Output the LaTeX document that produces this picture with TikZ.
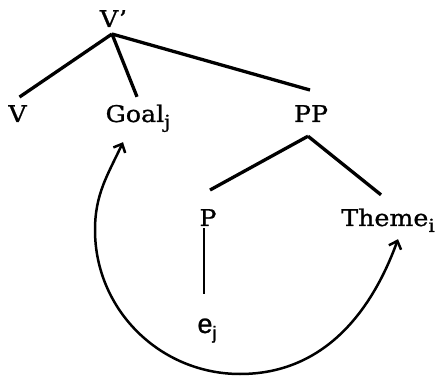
\documentclass[tikz,border=0pt]{standalone}
\usepackage{fontspec}
\setmainfont{DejaVu Serif}[FakeStretch=1.1,FakeBold=1]
\setsansfont{Liberation Sans}[FakeBold=1]
\usetikzlibrary{arrows.meta}
\newcommand\subidx[1]{\raisebox{-6pt}{\fontsize{18}{18}\selectfont #1}}

\begin{document}
\begin{tikzpicture}[x=1pt,y=1pt,font=\fontsize{23}{27}\selectfont,
 cat/.style={inner sep=0pt,anchor=base},
 branch/.style={line width=3.3pt},
 move/.style={{Straight Barb[length=7pt,width=13pt]}-{Straight Barb[length=7pt,width=13pt]},line width=2.5pt}]
\useasboundingbox (0,0) rectangle (435,379);
\node[cat] (vbar) at (113.5,352) {V'};
\node[cat] (v) at (17.5,257) {V};
\node[cat] (goal) at (138,257) {Goal\subidx{j}};
\node[cat] (pp) at (311,257) {PP};
\node[cat] (p) at (208,153) {P};
\node[cat] (theme) at (388,153) {Theme\subidx{i}};
\node[cat,font=\sffamily\fontsize{27}{31}\selectfont] (ej) at (207,46) {e\subidx{j}};
% branches of the tree
\draw[branch] ([xshift=-1.5pt,yshift=-7pt]vbar.base) -- ([xshift=2pt,yshift=8pt]v.north);
\draw[branch] ([xshift=-1.5pt,yshift=-7pt]vbar.base) -- ([xshift=-1pt,yshift=7.5pt]goal.north);
\draw[branch] ([xshift=-1.5pt,yshift=-7pt]vbar.base) -- ([xshift=-1pt,yshift=15pt]pp.north);
\draw[branch] ([xshift=-3pt,yshift=-14pt]pp.south) -- ([xshift=2pt,yshift=19pt]p.north);
\draw[branch] ([xshift=-3pt,yshift=-14pt]pp.south) -- ([xshift=-7pt,yshift=13.5pt]theme.north);
\draw[branch,line width=2.6pt] ([xshift=-4pt,yshift=-2pt]p.south) -- ([xshift=-3pt,yshift=24pt]ej.north);
% movement arrow
\coordinate (loopw) at (95,149);
\coordinate (loops) at (240,5);
\draw[move] ([xshift=-15pt,yshift=-10pt]goal.south) to[out=-115,in=90] (loopw)
 to[out=-90,in=180] (loops) to[out=0,in=-110] ([xshift=10pt,yshift=-7pt]theme.south);
\end{tikzpicture}
\end{document}
